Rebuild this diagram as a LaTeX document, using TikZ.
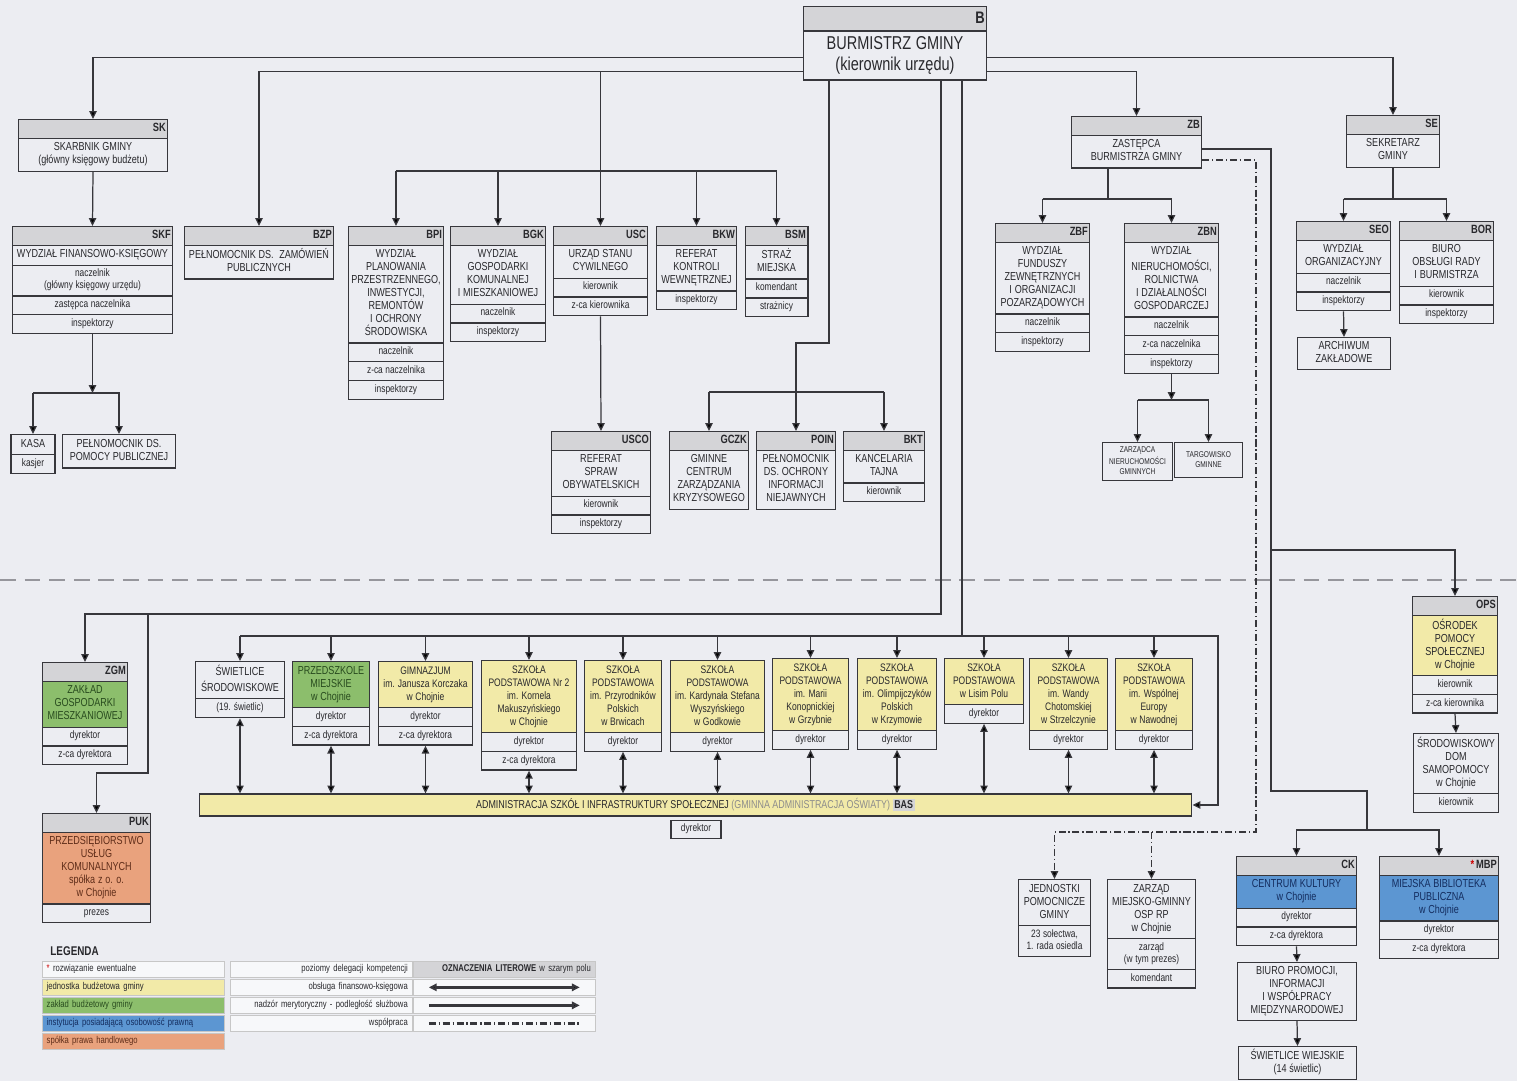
\documentclass[tikz,border=0pt]{standalone}
\usepackage{fontspec}
\setmainfont{Liberation Sans}[FakeStretch=0.78]
\usetikzlibrary{arrows.meta,shapes.multipart}
\definecolor{paper}{RGB}{236,237,242}
\definecolor{ln}{RGB}{55,55,60}
\definecolor{hdr}{RGB}{212,212,215}
\definecolor{yel}{RGB}{242,234,168}
\definecolor{grn}{RGB}{140,190,108}
\definecolor{blu}{RGB}{92,150,210}
\definecolor{org}{RGB}{233,162,125}
\definecolor{txt}{RGB}{40,40,44}
\definecolor{grtx}{RGB}{40,75,30}
\definecolor{bltx}{RGB}{20,45,95}
\definecolor{ortx}{RGB}{95,45,25}
\definecolor{sep}{RGB}{150,150,156}
\newcommand\fsz[2]{\fontsize{#1}{#2}\selectfont\spaceskip=.24em plus .05em\xspaceskip=.3em\relax}
\newcommand\code[1]{\raggedleft\fsz{6.8}{6.6}\strut\textbf{#1}\par}
\newcommand\ttl[1]{\centering\fsz{6.6}{7.4}\strut#1\strut\par}
\newcommand\stl[1]{\centering\fsz{6.2}{7.4}\strut#1\strut\par}
\newcommand\rowt[1]{\centering\fsz{6.1}{6.8}\strut#1\strut\par}
\newcommand\smt[1]{\centering\fsz{4.8}{5.6}\strut#1\strut\par}
\tikzset{
  bw/.code={\pgfmathsetmacro\boxw{#1*0.5669-2.2}\tikzset{text width=\boxw pt}},
  ubox/.style={rectangle split, rectangle split parts=#1, draw=ln, line width=0.7pt, inner xsep=1.1pt, inner ysep=1.6pt, anchor=north, text=txt},
  pbox/.style={draw=ln, line width=0.7pt, fill=paper, inner xsep=1.1pt, inner ysep=1.6pt, anchor=north, text=txt},
  wt/.style={rectangle split part fill={hdr,paper}},
  hyl/.style={rectangle split part fill={hdr,yel,paper}},
  hgr/.style={rectangle split part fill={hdr,grn,paper}},
  hbl/.style={rectangle split part fill={hdr,blu,paper}},
  hor/.style={rectangle split part fill={hdr,org,paper}},
  yl/.style={rectangle split part fill={yel,paper}},
  gr/.style={rectangle split part fill={grn,paper}},
  pl/.style={rectangle split part fill={paper}},
  coop/.style={dash pattern=on 4pt off 1.6pt on 0.7pt off 1.6pt},
  sepline/.style={draw=sep, line width=0.8pt, dash pattern=on 9pt off 5pt},
  lgcell/.style={draw=black!22, line width=0.4pt, fill=white!60!paper, anchor=north west, minimum height=9.1pt, inner xsep=2.5pt, inner ysep=0pt, text width=98.5pt, font=\fontsize{5.6}{6.2}\selectfont, text=txt}
}

\begin{document}
\begin{tikzpicture}[x=0.02cm, y=-0.02cm, >={Triangle[length=4.5pt,width=4.2pt]}, line width=0.7pt, draw=ln]
  \fill[paper] (0,0) rectangle (1517,1081);
  \useasboundingbox (0,0) rectangle (1517,1081);

  \node[ubox=2, wt, bw=184] (b) at (895,6) {\raggedleft\fsz{9.5}{9.5}\rule[-2.5pt]{0pt}{10pt}\textbf{B}\par\nodepart{two}\centering\fsz{10.6}{12}\strut BURMISTRZ GMINY\\(kierownik urzędu)\strut\par};

  \node[ubox=2, wt, bw=150] (sk) at (93,119) {\code{SK}\nodepart{two}\ttl{SKARBNIK GMINY\\(główny księgowy budżetu)}};
  \node[ubox=5, wt, bw=161] (skf) at (92.5,226) {\code{SKF}\nodepart{two}\ttl{WYDZIAŁ FINANSOWO-KSIĘGOWY}\nodepart{three}\rowt{naczelnik\\(główny księgowy urzędu)}\nodepart{four}\rowt{zastępca naczelnika}\nodepart{five}\rowt{inspektorzy}};
  \node[ubox=2, wt, bw=150] (bzp) at (259,226) {\code{BZP}\nodepart{two}\ttl{PEŁNOMOCNIK DS.\ \ ZAMÓWIEŃ\\PUBLICZNYCH}};
  \node[ubox=5, wt, bw=96] (bpi) at (396,226) {\code{BPI}\nodepart{two}\ttl{WYDZIAŁ\\PLANOWANIA\\PRZESTRZENNEGO,\\INWESTYCJI,\\REMONTÓW\\I OCHRONY\\ŚRODOWISKA}\nodepart{three}\rowt{naczelnik}\nodepart{four}\rowt{z-ca naczelnika}\nodepart{five}\rowt{inspektorzy}};
  \node[ubox=4, wt, bw=96] (bgk) at (498,226) {\code{BGK}\nodepart{two}\ttl{WYDZIAŁ\\GOSPODARKI\\KOMUNALNEJ\\I MIESZKANIOWEJ}\nodepart{three}\rowt{naczelnik}\nodepart{four}\rowt{inspektorzy}};
  \node[ubox=4, wt, bw=95] (usc) at (600.5,226) {\code{USC}\nodepart{two}\ttl{URZĄD STANU\\CYWILNEGO}\nodepart{three}\rowt{kierownik}\nodepart{four}\rowt{z-ca kierownika}};
  \node[ubox=3, wt, bw=81] (bkw) at (696.5,226) {\code{BKW}\nodepart{two}\ttl{REFERAT\\KONTROLI\\WEWNĘTRZNEJ}\nodepart{three}\rowt{inspektorzy}};
  \node[ubox=4, wt, bw=63] (bsm) at (776.5,226) {\code{BSM}\nodepart{two}\ttl{STRAŻ\\MIEJSKA}\nodepart{three}\rowt{komendant}\nodepart{four}\rowt{strażnicy}};

  \node[ubox=2, pl, bw=44] (kasa) at (33,434) {\ttl{KASA}\nodepart{two}\rowt{kasjer}};
  \node[pbox, bw=114, minimum height=19pt] (ppp) at (119,434) {\ttl{PEŁNOMOCNIK DS.\\POMOCY PUBLICZNEJ}};

  \node[ubox=4, wt, bw=100] (usco) at (601,431) {\code{USCO}\nodepart{two}\ttl{REFERAT\\SPRAW\\OBYWATELSKICH}\nodepart{three}\rowt{kierownik}\nodepart{four}\rowt{inspektorzy}};
  \node[ubox=2, wt, bw=80] (gczk) at (709,431) {\code{GCZK}\nodepart{two}\ttl{GMINNE\\CENTRUM\\ZARZĄDZANIA\\KRYZYSOWEGO}};
  \node[ubox=2, wt, bw=80] (poin) at (796,431) {\code{POIN}\nodepart{two}\ttl{PEŁNOMOCNIK\\DS. OCHRONY\\INFORMACJI\\NIEJAWNYCH}};
  \node[ubox=3, wt, bw=82] (bkt) at (884,431) {\code{BKT}\nodepart{two}\ttl{KANCELARIA\\TAJNA}\nodepart{three}\rowt{kierownik}};

  \node[ubox=2, wt, bw=131] (zb) at (1136.5,116) {\code{ZB}\nodepart{two}\ttl{ZASTĘPCA\\BURMISTRZA GMINY}};
  \node[ubox=2, wt, bw=94] (se) at (1393,115) {\code{SE}\nodepart{two}\ttl{SEKRETARZ\\GMINY}};
  \node[ubox=4, wt, bw=95] (zbf) at (1042.5,223) {\code{ZBF}\nodepart{two}\ttl{WYDZIAŁ\\FUNDUSZY\\ZEWNĘTRZNYCH\\I ORGANIZACJI\\POZARZĄDOWYCH}\nodepart{three}\rowt{naczelnik}\nodepart{four}\rowt{inspektorzy}};
  \node[ubox=5, wt, bw=95] (zbn) at (1171.5,223) {\code{ZBN}\nodepart{two}\ttl{WYDZIAŁ\\NIERUCHOMOŚCI,\\ROLNICTWA\\I DZIAŁALNOŚCI\\GOSPODARCZEJ}\nodepart{three}\rowt{naczelnik}\nodepart{four}\rowt{z-ca naczelnika}\nodepart{five}\rowt{inspektorzy}};
  \node[pbox, bw=71, minimum height=20pt] (zng) at (1137.5,442) {\smt{ZARZĄDCA\\NIERUCHOMOŚCI\\GMINNYCH}};
  \node[pbox, bw=69, minimum height=20pt] (tg) at (1208.5,442) {\smt{TARGOWISKO\\GMINNE}};
  \node[ubox=4, wt, bw=95] (seo) at (1343.5,221) {\code{SEO}\nodepart{two}\ttl{WYDZIAŁ\\ORGANIZACYJNY}\nodepart{three}\rowt{naczelnik}\nodepart{four}\rowt{inspektorzy}};
  \node[ubox=4, wt, bw=95] (bor) at (1446.5,221) {\code{BOR}\nodepart{two}\ttl{BIURO\\OBSŁUGI RADY\\I BURMISTRZA}\nodepart{three}\rowt{kierownik}\nodepart{four}\rowt{inspektorzy}};
  \node[pbox, bw=94] (arch) at (1344,337) {\ttl{ARCHIWUM\\ZAKŁADOWE}};

  \node[ubox=4, hgr, bw=86] (zgm) at (85,662) {\code{ZGM}\nodepart{two}\color{grtx}\ttl{ZAKŁAD\\GOSPODARKI\\MIESZKANIOWEJ}\nodepart{three}\rowt{dyrektor}\nodepart{four}\rowt{z-ca dyrektora}};
  \node[ubox=3, hor, bw=109] (puk) at (96.5,813) {\code{PUK}\nodepart{two}\color{ortx}\ttl{PRZEDSIĘBIORSTWO\\USŁUG\\KOMUNALNYCH\\spółka z o. o.\\w Chojnie}\nodepart{three}\rowt{prezes}};

  \node[ubox=2, pl, bw=90] (swi) at (240,661) {\ttl{ŚWIETLICE\\ŚRODOWISKOWE}\nodepart{two}\rowt{(19. świetlic)}};
  \node[ubox=3, gr, bw=78] (prz) at (331,661) {\color{grtx}\ttl{PRZEDSZKOLE\\MIEJSKIE\\w Chojnie}\nodepart{two}\rowt{dyrektor}\nodepart{three}\rowt{z-ca dyrektora}};
  \node[ubox=3, yl, bw=95] (gim) at (425.5,661) {\stl{GIMNAZJUM\\im. Janusza Korczaka\\w Chojnie}\nodepart{two}\rowt{dyrektor}\nodepart{three}\rowt{z-ca dyrektora}};
  \node[ubox=3, yl, bw=96] (sp2) at (529,660) {\stl{SZKOŁA\\PODSTAWOWA Nr 2\\im. Kornela\\Makuszyńskiego\\w Chojnie}\nodepart{two}\rowt{dyrektor}\nodepart{three}\rowt{z-ca dyrektora}};
  \node[ubox=2, yl, bw=78] (spb) at (623,660) {\stl{SZKOŁA\\PODSTAWOWA\\im. Przyrodników\\Polskich\\w Brwicach}\nodepart{two}\rowt{dyrektor}};
  \node[ubox=2, yl, bw=95] (spg) at (717.5,660) {\stl{SZKOŁA\\PODSTAWOWA\\im. Kardynała Stefana\\Wyszyńskiego\\w Godkowie}\nodepart{two}\rowt{dyrektor}};
  \node[ubox=2, yl, bw=77] (spz) at (810.5,658) {\stl{SZKOŁA\\PODSTAWOWA\\im. Marii\\Konopnickiej\\w Grzybnie}\nodepart{two}\rowt{dyrektor}};
  \node[ubox=2, yl, bw=80] (spk) at (897,658) {\stl{SZKOŁA\\PODSTAWOWA\\im. Olimpijczyków\\Polskich\\w Krzymowie}\nodepart{two}\rowt{dyrektor}};
  \node[ubox=2, yl, bw=80] (spl) at (984,658) {\stl{SZKOŁA\\PODSTAWOWA\\w Lisim Polu}\nodepart{two}\rowt{dyrektor}};
  \node[ubox=2, yl, bw=79] (sps) at (1068.5,658) {\stl{SZKOŁA\\PODSTAWOWA\\im. Wandy\\Chotomskiej\\w Strzelczynie}\nodepart{two}\rowt{dyrektor}};
  \node[ubox=2, yl, bw=78] (spn) at (1154,658) {\stl{SZKOŁA\\PODSTAWOWA\\im. Wspólnej\\Europy\\w Nawodnej}\nodepart{two}\rowt{dyrektor}};

  \node[draw=ln, fill=yel, text=txt, minimum width=565pt, minimum height=12.5pt, inner sep=0pt, font=\fontsize{6.5}{7.5}\selectfont] (bas) at (695.5,805) {ADMINISTRACJA SZKÓŁ I INFRASTRUKTURY SPOŁECZNEJ {\color{black!45}(GMINNA ADMINISTRACJA OŚWIATY)} {\fboxsep=1pt\colorbox{hdr}{\textbf{BAS}}}};
  \node[pbox, bw=50] (basd) at (696,820) {\rowt{dyrektor}};

  \node[ubox=4, hyl, bw=86] (ops) at (1455,596) {\code{OPS}\nodepart{two}\ttl{OŚRODEK\\POMOCY\\SPOŁECZNEJ\\w Chojnie}\nodepart{three}\rowt{kierownik}\nodepart{four}\rowt{z-ca kierownika}};
  \node[ubox=2, pl, bw=86] (sds) at (1456,733) {\ttl{ŚRODOWISKOWY\\DOM\\SAMOPOMOCY\\w Chojnie}\nodepart{two}\rowt{kierownik}};
  \node[ubox=4, hbl, bw=121] (ck) at (1296.5,856) {\code{CK}\nodepart{two}\color{bltx}\ttl{CENTRUM KULTURY\\w Chojnie}\nodepart{three}\rowt{dyrektor}\nodepart{four}\rowt{z-ca dyrektora}};
  \node[ubox=4, hbl, bw=120] (mbp) at (1439,856) {\code{{\color{red!80!black}*}\,MBP}\nodepart{two}\color{bltx}\ttl{MIEJSKA BIBLIOTEKA\\PUBLICZNA\\w Chojnie}\nodepart{three}\rowt{dyrektor}\nodepart{four}\rowt{z-ca dyrektora}};
  \node[pbox, bw=120] (bprom) at (1297,962) {\ttl{BIURO PROMOCJI,\\INFORMACJI\\I WSPÓŁPRACY\\MIĘDZYNARODOWEJ}};
  \node[pbox, bw=119] (sww) at (1297.5,1046) {\ttl{ŚWIETLICE WIEJSKIE\\(14 świetlic)}};
  \node[ubox=2, pl, bw=73] (jpg) at (1054.5,879) {\ttl{JEDNOSTKI\\POMOCNICZE\\GMINY}\nodepart{two}\rowt{23 sołectwa,\\1. rada osiedla}};
  \node[ubox=3, pl, bw=89] (osp) at (1151.5,879) {\ttl{ZARZĄD\\MIEJSKO-GMINNY\\OSP RP\\w Chojnie}\nodepart{two}\rowt{zarząd\\(w tym prezes)}\nodepart{three}\rowt{komendant}};

  \coordinate (lvA) at (0,57.5);
  \coordinate (lvB) at (0,71.5);
  \coordinate (lvC) at (0,171);
  \coordinate (lvD) at (0,392);
  \coordinate (lvE) at (0,614);
  \coordinate (lvF) at (0,636);
  \coordinate (lvG) at (0,199);
  \coordinate (lvH) at (0,400);
  \coordinate (lvK) at (0,393);
  \coordinate (lvP) at (0,343);
  \coordinate (lvQ) at (0,773);
  \coordinate (lvR) at (0,550);
  \coordinate (lvS) at (0,791);
  \coordinate (lvY) at (0,160);
  \coordinate (lvZ) at (0,149);
  \coordinate (bo1) at (829,0);
  \coordinate (bo2) at (941,0);
  \coordinate (bo3) at (962,0);
  \coordinate (zbo) at (1108,0);
  \coordinate (zbr) at (1271,0);
  \coordinate (basc) at (1218,0);
  \coordinate (pukj) at (148,614);
  \coordinate (ckj) at (1367,830);
  \coordinate (djn) at (1256,832);

  \draw[sepline] (0,580) -- (1517,580);

  \draw[->] (b.west |- lvA) -| (sk.north);
  \draw[->] (b.west |- lvB) -| (bzp.north);
  \draw[->] (usc.north |- lvB) -- (usc.north);
  \draw (bpi.north |- lvC) -- (bsm.north |- lvC);
  \foreach \n in {bpi,bgk,bkw,bsm} \draw[->] (\n.north |- lvC) -- (\n.north);
  \draw[->] (b.east |- lvA) -| (se.north);
  \draw[->] (b.east |- lvB) -| (zb.north);
  \draw[->] (sk.south) -- (skf.north);
  \draw[->] (skf.south) -- (skf.south |- lvK);
  \draw[->] (kasa.north |- lvK) -- (kasa.north);
  \draw[->] (kasa.north |- lvK) -| (ppp.north);
  \draw[->] (usc.south) -- (usco.north);
  \draw[->] (b.south -| bo1) |- (poin.north |- lvP) -- (poin.north);
  \draw (gczk.north |- lvD) -- (bkt.north |- lvD);
  \draw[->] (gczk.north |- lvD) -- (gczk.north);
  \draw[->] (bkt.north |- lvD) -- (bkt.north);

  \draw[->] (b.south -| bo2) |- (zgm.north |- lvE) -- (zgm.north);
  \draw[->] (pukj) |- (puk.north |- lvQ) -- (puk.north);
  \draw (b.south -| bo3) -- (bo3 |- lvF);
  \draw[->] (swi.north |- lvF) -| (basc |- bas.east) -- (bas.east);
  \foreach \n in {swi,prz,gim,sp2,spb,spg,spz,spk,spl,sps,spn} {
    \draw[->] (\n.north |- lvF) -- (\n.north);
    \draw[<->] (\n.south) -- (\n.south |- bas.north);
  }

  \draw (zb.south -| zbo) |- (zbf.north |- lvG);
  \draw[->] (zbf.north |- lvG) -- (zbf.north);
  \draw[->] (zbf.north |- lvG) -| (zbn.north);
  \draw[->] (zbn.south) -- (zbn.south |- lvH);
  \draw[->] (zng.north |- lvH) -- (zng.north);
  \draw[->] (zng.north |- lvH) -| (tg.north);
  \draw (se.south) -- (se.south |- lvG);
  \draw[->] (seo.north |- lvG) -- (seo.north);
  \draw[->] (seo.north |- lvG) -| (bor.north);
  \draw[->] (seo.south) -- (arch.north);

  \draw[->] (zb.east |- lvZ) -| (zbr |- lvR) -| (ops.north);
  \draw[->] (zb.east |- lvZ) -| (zbr |- lvS) -| (ckj) -| (ck.north);
  \draw[->] (ckj) -| (mbp.north);
  \draw[->] (ops.south) -- (sds.north);
  \draw[->] (ck.south) -- (bprom.north);
  \draw[->] (bprom.south) -- (sww.north);
  \draw[coop,->] (zb.east |- lvY) -| (djn) -| (jpg.north);
  \draw[coop,->] (osp.north |- djn) -- (osp.north);

  \node[anchor=west, font=\fontsize{7.2}{8}\selectfont\bfseries, text=txt] (legt) at (44,951) {LEGENDA};
  \node[lgcell, align=left] (lg1) at (42,961) {{\color{red!80!black}*} rozwiązanie ewentualne};
  \node[lgcell, align=left, fill=yel] (lg2) at (42,979) {jednostka budżetowa gminy};
  \node[lgcell, align=left, fill=grn, text=grtx] (lg3) at (42,997) {zakład budżetowy gminy};
  \node[lgcell, align=left, fill=blu, text=bltx] (lg4) at (42,1015) {instytucja posiadającą osobowość prawną};
  \node[lgcell, align=left, fill=org, text=ortx] (lg5) at (42,1033) {spółka prawa handlowego};
  \node[lgcell, align=right] (lm1) at (230,961) {poziomy delegacji kompetencji};
  \node[lgcell, align=right] (lm2) at (230,979) {obsługa finansowo-księgowa};
  \node[lgcell, align=right] (lm3) at (230,997) {nadzór merytoryczny - podległość służbowa};
  \node[lgcell, align=right] (lm4) at (230,1015) {współpraca};
  \node[lgcell, align=right, fill=hdr] (lr1) at (413,961) {\textbf{OZNACZENIA LITEROWE} w szarym polu};
  \node[lgcell] (lr2) at (413,979) {};
  \node[lgcell] (lr3) at (413,997) {};
  \node[lgcell] (lr4) at (413,1015) {};
  \draw[<->, line width=1.4pt] ([xshift=9pt]lr2.west) -- ([xshift=-9pt]lr2.east);
  \draw[->, line width=1.4pt] ([xshift=9pt]lr3.west) -- ([xshift=-9pt]lr3.east);
  \draw[coop, line width=1.4pt] ([xshift=9pt]lr4.west) -- ([xshift=-9pt]lr4.east);
\end{tikzpicture}
\end{document}
